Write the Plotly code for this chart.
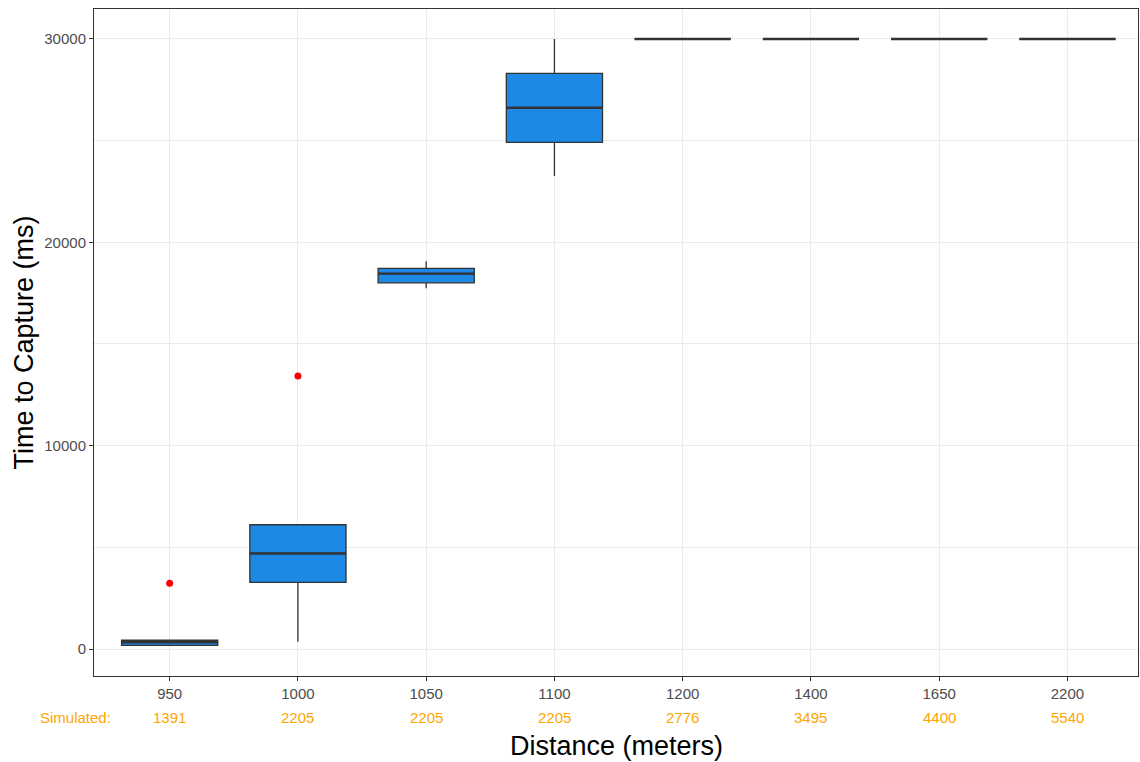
import plotly.graph_objects as go

# Capture-time distribution per distance (ms), summarised as box statistics
distances = ["950", "1000", "1050", "1100", "1200", "1400", "1650", "2200"]
simulated = ["1391", "2205", "2205", "2205", "2776", "3495", "4400", "5540"]
q1 = [180, 3280, 18010, 24920, 30000, 30000, 30000, 30000]
median = [330, 4700, 18460, 26620, 30000, 30000, 30000, 30000]
q3 = [430, 6110, 18720, 28310, 30000, 30000, 30000, 30000]
lower_fence = [180, 360, 17740, 23260, 30000, 30000, 30000, 30000]
upper_fence = [430, 6110, 19070, 30000, 30000, 30000, 30000, 30000]
outlier_dist = ["950", "1000"]
outlier_ms = [3230, 13420]

pos = list(range(len(distances)))
box_half = 0.375
FILL = "#1E88E5"
EDGE = "#333333"
GRID = "#EBEBEB"
ORANGE = "#FFA500"
FONT = "Liberation Sans, Arial, sans-serif"

fig = go.Figure()

fig.add_trace(go.Box(
    x=pos, q1=q1, median=median, q3=q3,
    lowerfence=lower_fence, upperfence=upper_fence,
    width=2 * box_half, fillcolor=FILL,
    line=dict(color=EDGE, width=1.3),
    whiskerwidth=0, boxpoints=False, showlegend=False, hoverinfo="skip",
))

# thicker median bars, drawn across each box width
mx, my = [], []
for p, m in zip(pos, median):
    mx += [p - box_half, p + box_half, None]
    my += [m, m, None]
fig.add_trace(go.Scatter(x=mx, y=my, mode="lines",
                         line=dict(color=EDGE, width=2.4),
                         showlegend=False, hoverinfo="skip"))

# outliers
fig.add_trace(go.Scatter(
    x=[distances.index(d) for d in outlier_dist], y=outlier_ms,
    mode="markers", marker=dict(color="red", size=7),
    showlegend=False, hoverinfo="skip"))

# simulated counts under each category
annotations = [dict(x=0.018, y=0, xref="paper", yref="paper", text="Simulated:",
                    showarrow=False, xanchor="right", yanchor="middle", yshift=-41,
                    font=dict(color=ORANGE, size=15, family=FONT))]
for p, s in zip(pos, simulated):
    annotations.append(dict(x=p, y=0, xref="x", yref="paper", text=s,
                            showarrow=False, yanchor="middle", yshift=-41,
                            font=dict(color=ORANGE, size=15, family=FONT)))
annotations.append(dict(x=0.5, y=0, xref="paper", yref="paper",
                        text="Distance (meters)", showarrow=False,
                        yanchor="middle", yshift=-70,
                        font=dict(color="black", size=27, family=FONT)))
annotations.append(dict(x=0, y=0.5, xref="paper", yref="paper",
                        text="Time to Capture (ms)", showarrow=False, textangle=-90,
                        xanchor="center", xshift=-71,
                        font=dict(color="black", size=27, family=FONT)))

fig.update_layout(
    width=1140, height=762,
    margin=dict(l=94, r=2, t=9, b=86),
    paper_bgcolor="white", plot_bgcolor="white",
    font=dict(family=FONT),
    annotations=annotations,
    xaxis=dict(
        range=[-0.59, 7.55], tickmode="array", tickvals=pos, ticktext=distances,
        showgrid=True, gridcolor=GRID, gridwidth=1, zeroline=False,
        showline=True, mirror=True, linecolor=EDGE, linewidth=1,
        ticks="outside", ticklen=4, tickcolor=EDGE,
        tickfont=dict(size=15, color="#4D4D4D"),
    ),
    yaxis=dict(
        range=[-1328, 31475], tickvals=[0, 10000, 20000, 30000],
        ticktext=["0", "10000", "20000", "30000"],
        showgrid=True, gridcolor=GRID, gridwidth=1, zeroline=False,
        minor=dict(tickvals=[5000, 15000, 25000], showgrid=True,
                   gridcolor=GRID, gridwidth=0.6),
        showline=True, mirror=True, linecolor=EDGE, linewidth=1,
        ticks="outside", ticklen=4, tickcolor=EDGE,
        tickfont=dict(size=15, color="#4D4D4D"),
    ),
)

fig.write_html("out.html")
